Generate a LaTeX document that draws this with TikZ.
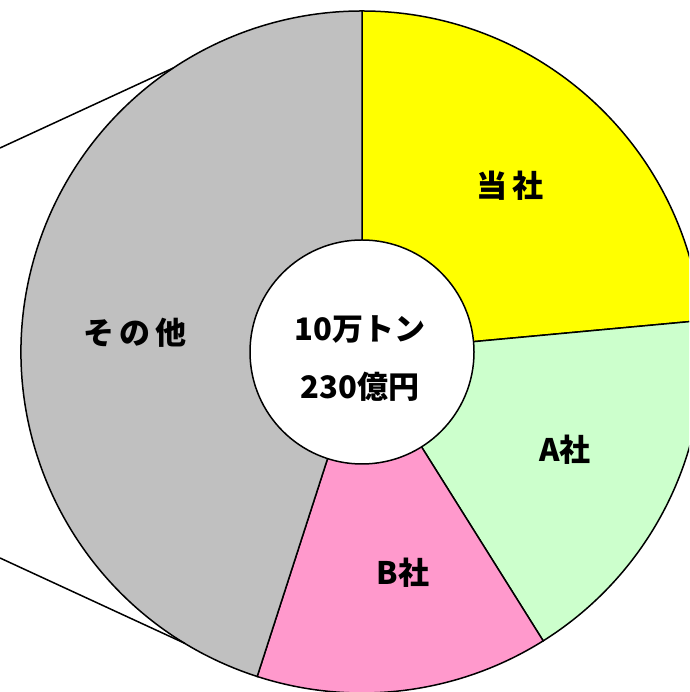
\documentclass[tikz,border=0pt]{standalone}
\usepackage{fontspec}
\setmainfont{Noto Sans CJK JP}
\definecolor{tosha}{HTML}{FFFF00}
\definecolor{asha}{HTML}{CCFFCC}
\definecolor{bsha}{HTML}{FF99CC}
\definecolor{sonota}{HTML}{C0C0C0}

\begin{document}
\begin{tikzpicture}[line width=1.5pt, every node/.style={font=\bfseries\fontsize{31pt}{36pt}\selectfont}]
  \useasboundingbox (0pt, 0pt) rectangle (689pt, 692pt);
  \clip (0pt, 0pt) rectangle (689pt, 692pt);
  \coordinate (c) at (362pt, 340pt);
  \filldraw[fill=tosha] (c) -- ++(90:341pt) arc[start angle=90, end angle=5.3, radius=341pt] -- cycle;
  \filldraw[fill=asha] (c) -- ++(5.3:341pt) arc[start angle=5.3, end angle=-57.9, radius=341pt] -- cycle;
  \filldraw[fill=bsha] (c) -- ++(-57.9:341pt) arc[start angle=-57.9, end angle=-107.9, radius=341pt] -- cycle;
  \filldraw[fill=sonota] (c) -- ++(-107.9:341pt) arc[start angle=-107.9, end angle=-270, radius=341pt] -- cycle;
  \path (c) ++(123.6:341pt) coordinate (top);
  \path (c) ++(238.7:341pt) coordinate (bot);
  \coordinate (l1) at (0pt, 544pt);
  \coordinate (l2) at (0pt, 134pt);
  \draw (l1) -- (top);
  \draw (l2) -- (bot);
  \node (hole) [circle, draw, fill=white, minimum size=224pt, inner sep=0pt] at (c) {};
  \node (sum) [align=center, font=\bfseries\fontsize{31pt}{58pt}\selectfont] at (360pt, 333pt) {10万トン\\230億円};
  \node (t) at (510pt, 506pt) {当\,社};
  \node (a) at (565pt, 242pt) {A社};
  \node (b) at (403pt, 119pt) {B社};
  \node (o) at (135pt, 359pt) {そ\,の\,他};
\end{tikzpicture}
\end{document}
